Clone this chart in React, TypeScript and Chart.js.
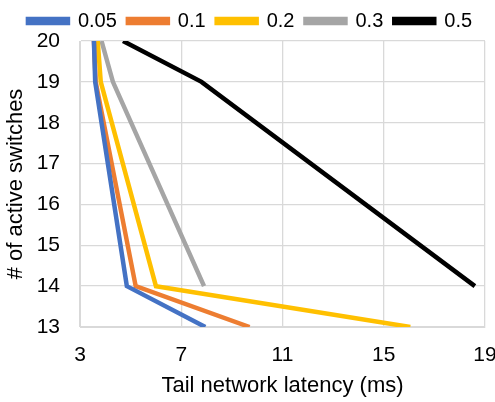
import React, { useEffect, useRef } from "react";
import { Chart, registerables } from "chart.js";

Chart.register(...registerables);

const seriesNames = ["0.05", "0.1", "0.2", "0.3", "0.5"];
const seriesColors = ["#4472C4", "#ED7D31", "#FFC000", "#A5A5A5", "#000000"];
const switches = [20, 19, 14, 13];
const lat005 = [3.55, 3.6, 4.85, 7.95];
const lat01 = [3.55, 3.62, 5.2, 9.7];
const lat02 = [3.7, 3.82, 6.0, 16.05];
const lat03 = [3.85, 4.3, 7.9];
const lat05 = [4.7, 7.8, 18.6];
const xTicks = [3, 7, 11, 15, 19];

const FONT = "Liberation Sans, Arial, sans-serif";

export default function App() {
  const ref = useRef<HTMLCanvasElement>(null);
  useEffect(() => {
    const all = [lat005, lat01, lat02, lat03, lat05];
    const chart = new Chart(ref.current!, {
      type: "scatter",
      data: {
        datasets: all.map((arr, i) => ({
          label: seriesNames[i],
          data: arr.map((x, j) => ({ x, y: switches[j] })),
          showLine: true,
          borderColor: seriesColors[i],
          backgroundColor: seriesColors[i],
          borderWidth: 4.5,
          pointRadius: 0,
          tension: 0,
        })),
      },
      options: {
        animation: false,
        responsive: false,
        layout: { padding: { left: 10, right: 5, top: 0, bottom: 0 } },
        plugins: {
          legend: {
            position: "top",
            labels: {
              boxWidth: 40,
              boxHeight: 4,
              padding: 11,
              color: "#000",
              font: { family: FONT, size: 20 },
            },
          },
          tooltip: { enabled: false },
        },
        scales: {
          x: {
            type: "linear",
            min: 3,
            max: 19,
            afterBuildTicks: (axis: any) => {
              axis.ticks = xTicks.map((v) => ({ value: v }));
            },
            afterFit: (axis: any) => {
              axis.height = 75;
              axis.paddingLeft = 0;
              axis.paddingRight = 10;
            },
            grid: { color: "#d9d9d9", lineWidth: 1.3, drawTicks: false },
            border: { color: "#d9d9d9" },
            ticks: {
              color: "#000",
              padding: 16,
              font: { family: FONT, size: 21 },
            },
            title: {
              display: true,
              text: "Tail network latency (ms)",
              color: "#000",
              font: { family: FONT, size: 22 },
              padding: { top: 2, bottom: 3 },
            },
          },
          y: {
            type: "linear",
            min: 13,
            max: 20,
            afterFit: (axis: any) => {
              axis.width = 70;
            },
            ticks: {
              stepSize: 1,
              color: "#000",
              padding: 20,
              font: { family: FONT, size: 21 },
            },
            grid: { color: "#d9d9d9", lineWidth: 1.3, drawTicks: false },
            border: { color: "#d9d9d9" },
            title: {
              display: true,
              text: "# of active switches",
              color: "#000",
              font: { family: FONT, size: 22 },
              padding: { top: -7, bottom: 0 },
            },
          },
        },
      },
    });
    return () => chart.destroy();
  }, []);
  return (
    <div style={{ position: "fixed", left: 0, top: 0, width: 495, height: 402, background: "#fff" }}>
      <canvas ref={ref} width={495} height={402} />
    </div>
  );
}
